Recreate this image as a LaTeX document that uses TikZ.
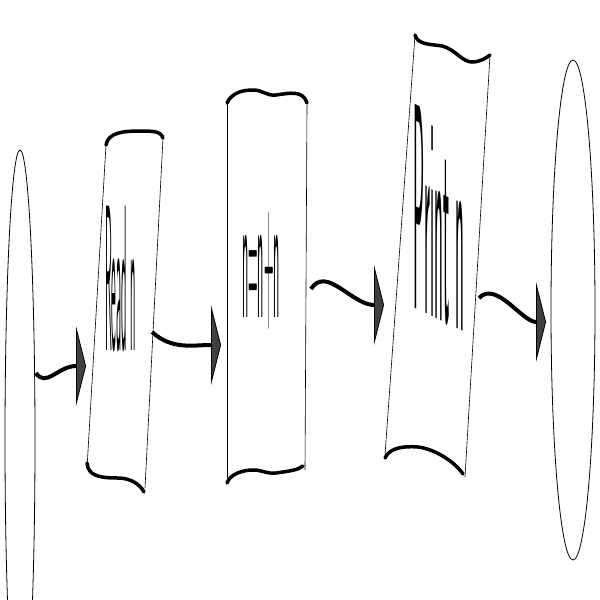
\documentclass[tikz,border=0pt]{standalone}
\usetikzlibrary{arrows.meta,shapes.geometric}
\begin{document}
\begin{tikzpicture}[x=1pt,y=-1pt,
  edge/.style={line width=0.6pt},
  wave/.style={line width=3.5pt, line cap=round},
  term/.style={draw, ellipse, line width=0.8pt, inner sep=0pt},
  conn/.style={line width=4pt, -{Triangle[length=10pt,width=80pt,line width=0.8pt,fill=black!75]}},
  lbl/.style={inner sep=0pt, anchor=base west, font=\fontsize{20}{20}\sffamily}]
\useasboundingbox (0,0) rectangle (600,600);
\clip (0,0) rectangle (600,600);

% terminals
\node[term, minimum width=30pt, minimum height=580pt] (start) at (20,440) {};
\node[term, minimum width=44pt, minimum height=500pt] (stop) at (573,310) {};

% box 1: Read n
\draw[edge] (106,145) -- (87,468);
\draw[edge] (163,138) -- (145,488);
\draw[wave] (106,145) .. controls (108,132) and (125,131) .. (140,131) .. controls (152,131) and (161,131) .. (163,138);
\draw[wave] (87,463) .. controls (88,476) and (100,478) .. (118,478) .. controls (130,478) and (140,484) .. (144,492);
\node[lbl] (read) at (105,350) {\scalebox{0.56}[10.4]{Read n}};

% box 2: n=n+n
\draw[edge] (227,103) -- (227,478);
\draw[edge] (307,105) -- (305,470);
\draw[wave] (227,103) .. controls (232,92) and (244,90) .. (253,90) .. controls (263,90) and (266,96) .. (276,95) .. controls (290,93) and (303,90) .. (307,103);
\draw[wave] (227,483) .. controls (230,474) and (243,470) .. (253,470) .. controls (263,470) and (266,474) .. (276,473) .. controls (290,471) and (298,470) .. (303,466);
\node[lbl] (calc) at (242,317) {\scalebox{0.65}[9.4]{n=n+n}};

% box 3: Print n
\draw[edge] (415,35) -- (385,455);
\draw[edge] (490,55) -- (465,477);
\draw[wave] (415,35) .. controls (418,45) and (430,44) .. (442,46) .. controls (455,49) and (462,62) .. (472,62) .. controls (480,62) and (486,58) .. (490,55);
\draw[wave] (385,458) .. controls (390,447) and (405,446) .. (418,447) .. controls (435,449) and (455,462) .. (463,474);
\node[lbl, transform shape, yslant=-0.48] (print) at (413,307) {\scalebox{0.92}[14.7]{Print n}};

% connector end points
\coordinate (startR) at (36,373);
\coordinate (readL) at (86,366);
\coordinate (readR) at (152,332);
\coordinate (calcL) at (221,345);
\coordinate (calcR) at (311,289);
\coordinate (printL) at (384,305);
\coordinate (printR) at (479,298);
\coordinate (stopL) at (546,322);

\draw[conn] (startR) .. controls (46,388) and (58,366) .. (readL);
\draw[conn] (readR) .. controls (172,350) and (192,345) .. (calcL);
\draw[conn] (calcR) .. controls (326,265) and (352,305) .. (printL);
\draw[conn] (printR) .. controls (496,280) and (522,322) .. (stopL);
\end{tikzpicture}
\end{document}
